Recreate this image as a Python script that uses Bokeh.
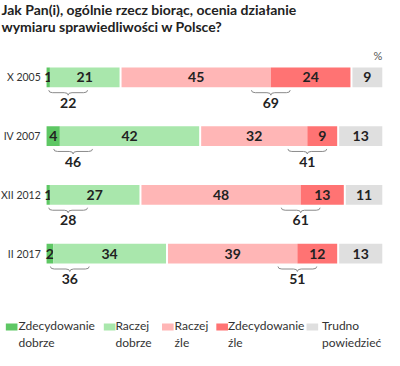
from bokeh.plotting import figure
from bokeh.models import Range1d, ColumnDataSource
from bokeh.core.properties import value
from bokeh.embed import file_html
from bokeh.resources import INLINE

# ---------------- data ----------------
years = ["X 2005", "IV 2007", "XII 2012", "II 2017"]
zdec_dobrze = [1, 4, 1, 2]
raczej_dobrze = [21, 42, 27, 34]
raczej_zle = [45, 32, 48, 39]
zdec_zle = [24, 9, 13, 12]
trudno = [9, 13, 11, 13]
sum_dobrze = [22, 46, 28, 36]
sum_zle = [69, 41, 61, 51]
categories = ["Zdecydowanie dobrze", "Raczej dobrze", "Raczej źle", "Zdecydowanie źle", "Trudno powiedzieć"]
colors = ["#5ec764", "#a9e7ac", "#ffb6b6", "#ff7373", "#dfdfdf"]
title_lines = ["Jak Pan(i), ogólnie rzecz biorąc, ocenia działanie",
               "wymiaru sprawiedliwości w Polsce?"]

# ---------------- layout ----------------
W, H = 384, 350
OX, OY, SX, SY = 2.5, 6.0, 0.97, 0.985     # reference px -> figure px
X0 = (50 - OX) * SX                         # bar start in figure px
S = 3.42 * SX                               # figure px per percent
GAP = 0.6
FONT = "Lato"


def X(px):
    return ((px - OX) * SX - X0) / S


def Y(py):
    return (py - OY) * SY


p = figure(width=W, height=H, output_backend="svg", toolbar_location=None,
           x_range=Range1d(-X0 / S, (W - X0) / S), y_range=Range1d(H, 0),
           min_border=0, outline_line_color=None)
p.axis.visible = False
p.grid.visible = False
p.background_fill_color = "white"
p.border_fill_color = "white"

ROW0, STEP = 84, 59.67
BH = 20 * SY
rows_y = [Y(ROW0 + i * STEP) for i in range(len(years))]

lefts = {c: [] for c in range(5)}
rights = {c: [] for c in range(5)}
for i in range(len(years)):
    a = 0
    b = a + zdec_dobrze[i]
    c = b + raczej_dobrze[i]
    d = c + GAP
    e = d + raczej_zle[i]
    f = e + zdec_zle[i]
    g = f + GAP
    h = g + trudno[i]
    for k, (l, r) in enumerate([(a, b), (b, c), (d, e), (e, f), (g, h)]):
        lefts[k].append(l)
        rights[k].append(r)

series = [zdec_dobrze, raczej_dobrze, raczej_zle, zdec_zle, trudno]
for k in range(5):
    src = ColumnDataSource(dict(y=rows_y, left=lefts[k], right=rights[k],
                                mid=[(l + r) / 2 for l, r in zip(lefts[k], rights[k])],
                                lab=[str(v) for v in series[k]]))
    p.hbar(y="y", left="left", right="right", height=BH, source=src,
           fill_color=colors[k], line_color=None)
    p.text(x="mid", y="y", text="lab", source=src, text_align="center",
           text_baseline="middle", text_font=value(FONT), text_font_style="bold",
           text_font_size="14px", text_color="#222222")

# row labels
p.text(x=[X(44)] * len(years), y=rows_y, text=years, text_align="right",
       text_baseline="middle", text_font=value(FONT), text_font_size="10.5px",
       text_color="#333333")

# percent sign
p.text(x=[X(396)], y=[Y(62)], text=["%"], text_align="right",
       text_baseline="middle", text_font=value(FONT), text_font_size="11px",
       text_color="#555555")

# braces
BW = 40 * SX / S
BD = 4 * SX / S
BRH = 5


def brace(cx, ytop):
    L, R = cx - BW / 2, cx + BW / 2
    ym = ytop + BRH / 2
    p.quadratic(x0=[L, cx - BD, cx + BD, R], y0=[ytop, ym, ym, ytop],
                x1=[L + BD, cx, cx, R - BD], y1=[ym, ytop + BRH, ytop + BRH, ym],
                cx=[L, cx, cx, R], cy=[ym, ym, ym, ym],
                line_color="#8a8a8a", line_width=1)
    p.segment(x0=[L + BD, cx + BD], y0=[ym, ym], x1=[cx - BD, R - BD], y1=[ym, ym],
              line_color="#8a8a8a", line_width=1)


for i in range(len(years)):
    ytop = rows_y[i] + BH / 2 + 3
    cg = 6 + zdec_dobrze[i] * 0.5
    cb = lefts[3][i]
    brace(cg, ytop)
    brace(cb, ytop)
    p.text(x=[cg, cb], y=[rows_y[i] + BH / 2 + 16 * SY] * 2,
           text=[str(sum_dobrze[i]), str(sum_zle[i])], text_align="center",
           text_baseline="middle", text_font=value(FONT), text_font_style="bold",
           text_font_size="14px", text_color="#222222")

# title
p.text(x=[X(3.5)] * 2, y=[Y(15.5), Y(32.5)], text=title_lines, text_align="left",
       text_baseline="middle", text_font=value(FONT), text_font_style="bold",
       text_font_size="14px", text_color="#222222")

# legend
leg_sq_x = [8, 109, 169, 225, 318]
leg_tx_x = [21, 121, 182, 237, 334]
for k, cat in enumerate(categories):
    l1, l2 = cat.split(" ", 1)
    p.rect(x=[X(leg_sq_x[k] + 6)], y=[Y(337.5)], width=12 * SX / S, height=7 * SY,
           fill_color=colors[k], line_color=None)
    p.text(x=[X(leg_tx_x[k])] * 2, y=[Y(336), Y(353)], text=[l1, l2],
           text_align="left", text_baseline="middle", text_font=value(FONT),
           text_font_size="12px", text_color="#333333")

open("out.html", "w").write(file_html(p, INLINE))
